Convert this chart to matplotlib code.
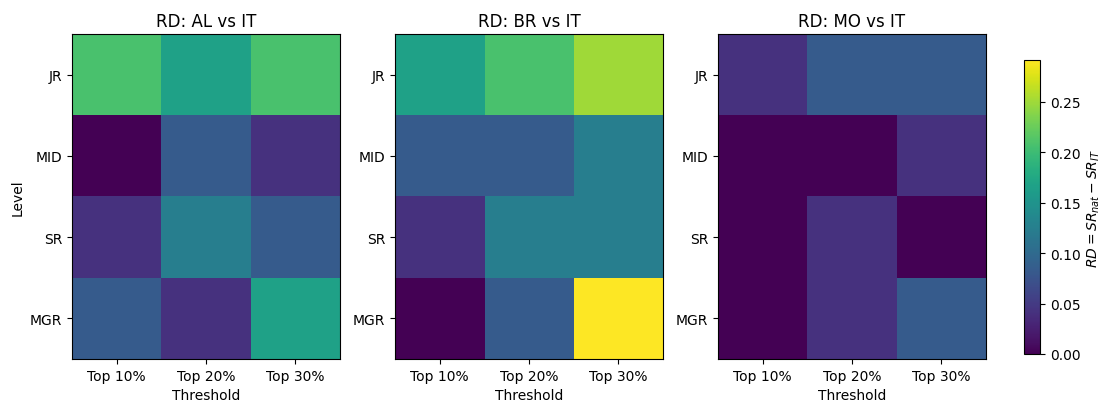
import numpy as np
import matplotlib.pyplot as plt

levels = ["JR", "MID", "SR", "MGR"]
thresholds = ["Top 10%", "Top 20%", "Top 30%"]
groups = ["AL", "BR", "MO"]

# risk differences vs IT, rows = level, cols = threshold
rd_al = np.array([[5, 4, 5], [0, 2, 1], [1, 3, 2], [2, 1, 4]]) / 24
rd_br = np.array([[4, 5, 6], [2, 2, 3], [1, 3, 3], [0, 2, 7]]) / 24
rd_mo = np.array([[1, 2, 2], [0, 0, 1], [0, 1, 0], [0, 1, 2]]) / 24

W, H = 11.06, 4.06
fig = plt.figure(figsize=(W, H), dpi=100)

vmax = max(rd_al.max(), rd_br.max(), rd_mo.max())
lefts = [72, 395, 718]
im = None
for i, (g, rd) in enumerate(zip(groups, [rd_al, rd_br, rd_mo])):
    ax = fig.add_axes([lefts[i] / 1106, 1 - 360 / 406, 268 / 1106, 325 / 406])
    im = ax.imshow(rd, cmap="viridis", vmin=0, vmax=vmax, aspect="auto")
    ax.set_title(f"RD: {g} vs IT")
    ax.set_xticks(range(len(thresholds)))
    ax.set_xticklabels(thresholds)
    ax.set_yticks(range(len(levels)))
    ax.set_yticklabels(levels)
    ax.set_xlabel("Threshold")
    if i == 0:
        ax.set_ylabel("Level")

cax = fig.add_axes([1024 / 1106, 1 - 355 / 406, 16 / 1106, 294 / 406])
cb = fig.colorbar(im, cax=cax)
cb.set_label(r"$RD = SR_{nat} - SR_{IT}$")

fig.savefig("out.png", dpi=100)
